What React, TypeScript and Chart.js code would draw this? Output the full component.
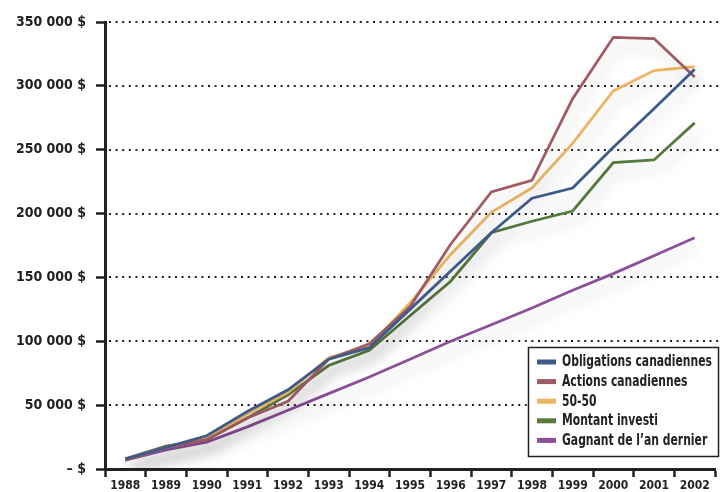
import React, { useEffect, useRef } from "react";
import { Chart, registerables } from "chart.js";

Chart.register(...registerables);

const years = ["1988","1989","1990","1991","1992","1993","1994","1995","1996","1997","1998","1999","2000","2001","2002"];
const obligations = [8000, 17000, 26000, 45000, 62000, 86000, 95000, 125000, 155000, 185000, 212000, 220000, 252000, 282000, 313000];
const actions = [7000, 17000, 23000, 40000, 53000, 86000, 98000, 127000, 176000, 217000, 226000, 290000, 338000, 337000, 307000];
const fiftyFifty = [7500, 17000, 24000, 43000, 60000, 87000, 96000, 130000, 168000, 201000, 220000, 255000, 296000, 312000, 315000];
const montant = [8000, 18000, 23000, 40000, 58000, 81000, 93000, 120000, 147000, 185000, 194000, 202000, 240000, 242000, 271000];
const gagnant = [7000, 15000, 21000, 33000, 46000, 59000, 72000, 86000, 100000, 113000, 126000, 140000, 153000, 167000, 181000];
const seriesNames = ["Obligations canadiennes", "Actions canadiennes", "50-50", "Montant investi", "Gagnant de l\u2019an dernier"];
const seriesColors = ["#3d5a8a", "#a05a63", "#ecb563", "#587a3c", "#8c4f99"];
const yTicks = [0, 50000, 100000, 150000, 200000, 250000, 300000, 350000];

const FONT = "'DejaVu Sans Condensed', 'Liberation Sans', sans-serif";

function fmt(v: number): string {
  if (v === 0) return "\u2013 $";
  const s = String(Math.round(v));
  return s.replace(/\B(?=(\d{3})+(?!\d))/g, " ") + " $";
}

const shadowPlugin = {
  id: "lineShadow",
  beforeDatasetDraw(chart: any) {
    const ctx = chart.ctx;
    ctx.save();
    ctx.shadowColor = "rgba(0,0,0,0.22)";
    ctx.shadowBlur = 16;
    ctx.shadowOffsetX = 4;
    ctx.shadowOffsetY = 9;
  },
  afterDatasetDraw(chart: any) {
    chart.ctx.restore();
  },
};

const gridPlugin = {
  id: "dottedGrid",
  beforeDatasetsDraw(chart: any) {
    const ctx = chart.ctx;
    const y = chart.scales.y;
    const left = chart.chartArea.left + 4;
    ctx.save();
    ctx.strokeStyle = "#222";
    ctx.lineWidth = 2;
    ctx.setLineDash([2, 4.6]);
    yTicks.forEach((t) => {
      if (t === 0) return;
      const py = Math.round(y.getPixelForValue(t));
      ctx.beginPath();
      ctx.moveTo(left, py);
      ctx.lineTo(chart.width, py);
      ctx.stroke();
    });
    ctx.restore();
  },
};

const legendPlugin = {
  id: "boxLegend",
  afterDraw(chart: any) {
    const ctx = chart.ctx;
    const bx = 528.5, by = 347.5, bw = 190, bh = 109;
    ctx.save();
    ctx.fillStyle = "#fff";
    ctx.fillRect(bx, by, bw, bh);
    ctx.strokeStyle = "#222";
    ctx.lineWidth = 1.5;
    ctx.strokeRect(bx, by, bw, bh);
    ctx.font = "bold 15px " + FONT;
    ctx.textBaseline = "middle";
    ctx.textAlign = "left";
    const w = ctx.measureText(seriesNames[0]).width;
    const sx = Math.min(1, 150 / w);
    seriesNames.forEach((name, i) => {
      const cy = by + 14 + i * 19.6;
      ctx.fillStyle = seriesColors[i];
      ctx.fillRect(537, cy - 2, 19, 5);
      ctx.fillStyle = "#222";
      ctx.save();
      ctx.translate(562, cy + 1);
      ctx.scale(sx, 1);
      ctx.fillText(name, 0, 0);
      ctx.restore();
    });
    ctx.restore();
  },
};

export default function App() {
  const ref = useRef<HTMLCanvasElement | null>(null);
  useEffect(() => {
    if (!ref.current) return;
    const all = [obligations, actions, fiftyFifty, montant, gagnant];
    const chart = new Chart(ref.current, {
      type: "line",
      data: {
        labels: years,
        datasets: all.map((d, i) => ({
          label: seriesNames[i],
          data: d,
          borderColor: seriesColors[i],
          backgroundColor: seriesColors[i],
          borderWidth: 2.8,
          pointRadius: 0,
          tension: 0,
          fill: false,
        })),
      },
      options: {
        animation: false,
        responsive: true,
        maintainAspectRatio: false,
        layout: { padding: { top: 22, right: 5, left: 0, bottom: 0 } },
        plugins: {
          legend: { display: false },
          tooltip: { enabled: false },
        },
        scales: {
          x: {
            type: "category",
            offset: true,
            grid: {
              offset: true,
              drawOnChartArea: false,
              drawTicks: true,
              tickLength: 8,
              tickColor: "#222",
              tickWidth: 2.5,
            },
            border: { display: true, color: "#222", width: 3 },
            ticks: {
              color: "#222",
              padding: 2,
              maxRotation: 0,
              autoSkip: false,
              font: { family: FONT, size: 12, weight: "bold" },
            },
            afterFit(scale: any) {
              scale.height = 23;
            },
          },
          y: {
            min: 0,
            max: 350000,
            afterBuildTicks(scale: any) {
              scale.ticks = yTicks.map((v) => ({ value: v }));
            },
            grid: {
              drawOnChartArea: false,
              drawTicks: true,
              tickLength: 9,
              tickColor: "#222",
              tickWidth: 2.5,
            },
            border: { display: true, color: "#222", width: 3 },
            ticks: {
              color: "#222",
              padding: 10,
              font: { family: FONT, size: 14, weight: "bold" },
              callback: (v: any) => fmt(Number(v)),
            },
            afterFit(scale: any) {
              scale.width = 105;
            },
          },
        },
      },
      plugins: [gridPlugin, shadowPlugin, legendPlugin],
    });
    return () => chart.destroy();
  }, []);
  return (
    <div style={{ position: "absolute", left: 0, top: 0, width: 720, height: 492, background: "#fff" }}>
      <canvas ref={ref} />
    </div>
  );
}
